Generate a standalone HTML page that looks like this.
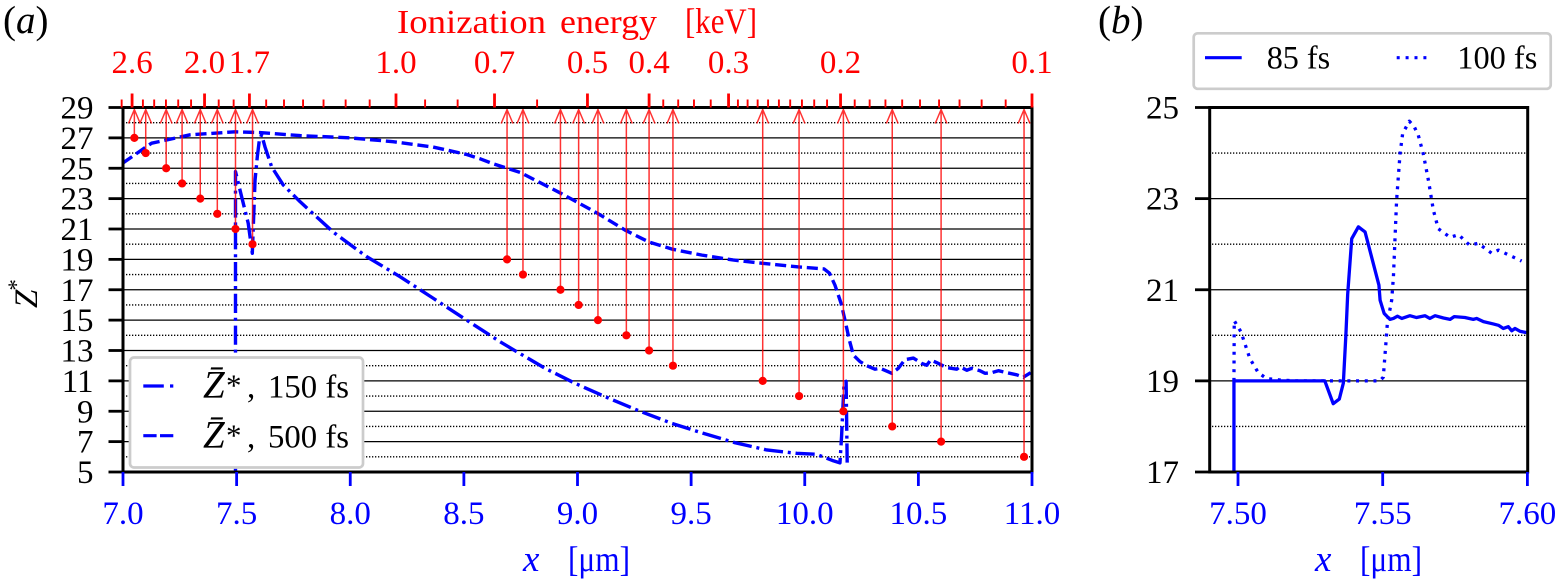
<!DOCTYPE html>
<html lang="en">
<head>
<meta charset="utf-8">
<title>Ionization energy and Z* profiles</title>
<style>
html,body{margin:0;padding:0;background:#fff;width:1557px;height:579px;overflow:hidden}
svg{display:block}
text{font-family:"Liberation Serif","DejaVu Serif",serif;font-size:33px}
.i{font-style:italic}
</style>
</head>
<body>
<svg id="chart" xmlns="http://www.w3.org/2000/svg" width="1557" height="579" viewBox="0 0 1557 579">
  <defs>
    <clipPath id="clipA"><rect x="123" y="107.5" width="909" height="364.5"/></clipPath>
    <clipPath id="clipB"><rect x="1209.7" y="107.5" width="318" height="364.5"/></clipPath>
  </defs>

  <text x="3" y="33" font-size="39" style="font-size:39px">(<tspan class="i">a</tspan>)</text>
  <text x="1098" y="33" style="font-size:39px">(<tspan class="i">b</tspan>)</text>

  <g fill="#f00" style="font-size:34px">
    <text x="397" y="33" textLength="149" lengthAdjust="spacingAndGlyphs" style="font-size:34px">Ionization</text>
    <text x="560" y="33" textLength="97" lengthAdjust="spacingAndGlyphs" style="font-size:34px">energy</text>
    <text x="685" y="33" textLength="72" lengthAdjust="spacingAndGlyphs" style="font-size:36px">[keV]</text>
  </g>

  <g id="gridA"></g>
  <g id="gridB"></g>
  <g id="seriesA" clip-path="url(#clipA)"></g>
  <g id="seriesB" clip-path="url(#clipB)"></g>
  <g id="arrows"></g>
  <g id="axesA"></g>
  <g id="axesB"></g>

  <g fill="#00f">
    <text class="i" x="523" y="571" style="font-size:37px">x</text>
    <text x="568" y="571" textLength="62" lengthAdjust="spacingAndGlyphs" style="font-size:36px">[μm]</text>
  </g>
  <g fill="#00f">
    <text class="i" x="1315" y="571" style="font-size:37px">x</text>
    <text x="1360" y="571" textLength="62" lengthAdjust="spacingAndGlyphs" style="font-size:36px">[μm]</text>
  </g>
  <text class="i" transform="translate(37,308) rotate(-90)">Z<tspan font-size="23" dy="-13" dx="-1" style="font-style:normal;font-size:23px">*</tspan></text>

  <g>
    <rect x="130" y="357.5" width="233" height="110" rx="4" fill="#fff" stroke="#ccc" stroke-width="2.7"/>
    <g>
      <line x1="143.3" x2="173.3" y1="386" y2="386" stroke="#00f" stroke-width="3.2" stroke-dasharray="20.5 6.2 3.3 10"/>
      <text class="i" x="203" y="397.5" style="font-size:39px">Z&#772;</text>
      <text x="226" y="395.5" style="font-size:31px">*</text>
      <text x="247" y="397.5">,</text>
      <text x="268" y="397.5" textLength="81" lengthAdjust="spacingAndGlyphs">150 fs</text>
    </g>
    <g>
      <line x1="143.3" x2="173.3" y1="435.7" y2="435.7" stroke="#00f" stroke-width="3.2" stroke-dasharray="13.3 3.4"/>
      <text class="i" x="203" y="447.5" style="font-size:39px">Z&#772;</text>
      <text x="226" y="445.5" style="font-size:31px">*</text>
      <text x="247" y="447.5">,</text>
      <text x="268" y="447.5" textLength="81" lengthAdjust="spacingAndGlyphs">500 fs</text>
    </g>
  </g>

  <g>
    <rect x="1193.7" y="33.3" width="357" height="55.5" rx="4" fill="#fff" stroke="#ccc" stroke-width="2.7"/>
    <g>
      <line x1="1205" x2="1241.7" y1="57.7" y2="57.7" stroke="#00f" stroke-width="3.2"/>
      <text x="1266.7" y="68.5" textLength="63.5" lengthAdjust="spacingAndGlyphs">85 fs</text>
    </g>
    <g>
      <line x1="1396.7" x2="1426.5" y1="57.7" y2="57.7" stroke="#00f" stroke-width="3.2" stroke-dasharray="3 5.9"/>
      <text x="1457.3" y="68.5" textLength="80" lengthAdjust="spacingAndGlyphs">100 fs</text>
    </g>
  </g>
</svg>

<script>
// ---- Panel (a) data ----
const xTicksA = [7.0, 7.5, 8.0, 8.5, 9.0, 9.5, 10.0, 10.5, 11.0];
const xTickLabelsA = ["7.0", "7.5", "8.0", "8.5", "9.0", "9.5", "10.0", "10.5", "11.0"];
const yTicksA = [5, 7, 9, 11, 13, 15, 17, 19, 21, 23, 25, 27, 29];
const yMinorA = [6, 8, 10, 12, 14, 16, 18, 20, 22, 24, 26, 28];

const energyMajor = [2.6, 2.0, 1.7, 1.0, 0.7, 0.5, 0.4, 0.3, 0.2, 0.1];
const energyMajorLabels = ["2.6", "2.0", "1.7", "1.0", "0.7", "0.5", "0.4", "0.3", "0.2", "0.1"];
const energyMinor = [2.7, 2.5, 2.4, 2.3, 2.2, 2.1, 1.9, 1.8, 1.6, 1.5, 1.4, 1.3, 1.2, 1.1, 0.9, 0.8, 0.6,
  0.38, 0.36, 0.34, 0.32, 0.29, 0.28, 0.27, 0.26, 0.25, 0.24, 0.23, 0.22, 0.21,
  0.19, 0.18, 0.17, 0.16, 0.15, 0.14, 0.13, 0.12, 0.11];

const ionCharge = [27, 26, 25, 24, 23, 22, 21, 20, 19, 18, 17, 16, 15, 14, 13, 12, 11, 10, 9, 8, 7, 6];
const ionPosition = [7.05, 7.10, 7.19, 7.26, 7.34, 7.415, 7.495, 7.57, 8.69, 8.76, 8.925, 9.005, 9.09, 9.215,
  9.315, 9.42, 9.815, 9.975, 10.17, 10.385, 10.6, 10.965];

const x150fs = [7.495, 7.495, 7.522, 7.551, 7.569, 7.581, 7.591, 7.6, 7.61, 7.625, 7.654, 7.705, 7.779, 7.925,
  8.072, 8.219, 8.365, 8.512, 8.659, 8.725, 8.857, 8.989, 9.128, 9.268, 9.414, 9.553, 9.693, 9.833, 9.965,
  10.05, 10.127, 10.155, 10.162, 10.173, 10.182, 10.187];
const z150fs = [5, 24.78, 23.13, 21.38, 19.4, 24.2, 25.76, 26.86, 27.2, 26.4, 25.1, 23.9, 22.8, 20.8,
  19.18, 17.86, 16.44, 15.0, 13.58, 12.99, 11.83, 10.84, 9.92, 9.04, 8.21, 7.55, 6.93, 6.45, 6.23,
  6.17, 5.73, 5.6, 7.33, 10.87, 10.97, 5.35];

const x500fs = [7.0, 7.101, 7.126, 7.192, 7.295, 7.493, 7.603, 7.779, 7.999, 8.188, 8.364, 8.44, 8.514, 8.57, 8.628, 8.747,
  8.927, 9.086, 9.209, 9.315, 9.42, 9.548, 9.684, 9.814, 9.973, 10.085, 10.109, 10.133, 10.16, 10.177, 10.196,
  10.214, 10.243, 10.273, 10.309, 10.331, 10.383, 10.412, 10.441, 10.478, 10.515, 10.537, 10.554, 10.581, 10.625,
  10.669, 10.683, 10.713, 10.735, 10.771, 10.793, 10.823, 10.852, 10.889, 10.933, 10.962, 10.994];
const z500fs = [25.35, 26.4, 26.65, 26.86, 27.2, 27.4, 27.35, 27.15, 27.0, 26.75, 26.4, 26.15, 25.9, 25.63, 25.3, 24.73,
  23.35, 22.05, 20.93, 20.14, 19.66, 19.28, 18.96, 18.74, 18.5, 18.37, 18.09, 17.3, 16.1, 15.0, 13.7,
  12.7, 12.27, 12.0, 11.77, 11.83, 11.5, 11.83, 12.4, 12.5, 12.15, 12.03, 12.38, 12.2, 11.87,
  11.77, 11.93, 11.7, 11.83, 11.67, 11.5, 11.54, 11.67, 11.54, 11.4, 11.24, 11.54];

// ---- Panel (b) data ----
const xTicksB = [7.50, 7.55, 7.60];
const xTickLabelsB = ["7.50", "7.55", "7.60"];
const yTicksB = [17, 19, 21, 23, 25];
const yMinorB = [18, 20, 22, 24];

const x85fs = [7.4986, 7.4986, 7.53, 7.5329, 7.535, 7.5364, 7.5373, 7.5379, 7.5393, 7.5416, 7.5439, 7.5487, 7.5491,
  7.5505, 7.5525, 7.5537, 7.5551, 7.5566, 7.5594, 7.5617, 7.5646, 7.5663, 7.5681, 7.571, 7.5733, 7.5747, 7.5784,
  7.5813, 7.5825, 7.5848, 7.5882, 7.59, 7.5917, 7.5934, 7.5946, 7.5957, 7.5974, 7.5997];
const z85fs = [17, 19, 19, 18.5, 18.6, 18.95, 20.04, 20.9, 22.12, 22.38, 22.27, 21.1, 20.77,
  20.48, 20.35, 20.37, 20.42, 20.37, 20.43, 20.39, 20.43, 20.37, 20.43, 20.38, 20.35, 20.41, 20.39,
  20.35, 20.37, 20.3, 20.25, 20.22, 20.15, 20.19, 20.1, 20.15, 20.09, 20.06];

const x100fs = [7.4986, 7.4987, 7.501, 7.5041, 7.507, 7.5099, 7.5145, 7.52, 7.549, 7.5502, 7.5511, 7.5516, 7.5531,
  7.5537, 7.5548, 7.5554, 7.556, 7.5569, 7.5592, 7.5608, 7.5623, 7.564, 7.5658, 7.5675, 7.5692, 7.5733, 7.5762,
  7.58, 7.583, 7.5877, 7.59, 7.598];
const z100fs = [19, 20.32, 20.08, 19.49, 19.18, 19.05, 19.02, 19, 19, 19.08, 19.82, 20.26, 20.77,
  21.28, 22.96, 23.48, 23.99, 24.43, 24.7, 24.59, 24.39, 23.99, 23.4, 22.75, 22.34, 22.15, 22.21,
  21.98, 22.02, 21.8, 21.87, 21.63];

// ---- Axis functions ----
const NS = "http://www.w3.org/2000/svg";
const top_ = 107.5, bottom_ = 472;
const xA = v => 123 + (v - 7) * 227.25;
const yA = v => bottom_ - (v - 5) * (bottom_ - top_) / 24;
const xE = e => 1032 - 636 * Math.log10(e / 0.1);
const xB = v => 1238 + (v - 7.5) * 2894;
const yB = v => bottom_ - (v - 17) * (bottom_ - top_) / 8;

function mk(parent, tag, attrs, text) {
  const el = document.createElementNS(NS, tag);
  for (const k in attrs) el.setAttribute(k, attrs[k]);
  if (text !== undefined) el.textContent = text;
  parent.appendChild(el);
  return el;
}
function hLine(parent, name, x1, x2, y, style) {
  const el = mk(parent, "line", Object.assign({x1: x1, x2: x2, y1: y, y2: y}, style));
  
  
}
function vLine(parent, name, x, y1, y2, style) {
  const el = mk(parent, "line", Object.assign({x1: x, x2: x, y1: y1, y2: y2}, style));
  
  
}
function label(parent, name, x, y, anchor, fill, str) {
  const el = mk(parent, "text", {x: x, y: y, "text-anchor": anchor, fill: fill}, str);
  
  
}
function curve(parent, name, xs, ys, fx, fy, dash, w) {
  const d = xs.map((v, i) => (i ? "L" : "M") + fx(v).toFixed(2) + " " + fy(ys[i]).toFixed(2)).join("");
  const el = mk(parent, "path", {d: d, fill: "none", stroke: "#00f", "stroke-width": w, "stroke-linejoin": "round"});
  if (dash) el.setAttribute("stroke-dasharray", dash);
  
  
}

const solidGrid = {stroke: "#000", "stroke-width": 1.3};
const dotGrid = {stroke: "#000", "stroke-width": 1.3, "stroke-dasharray": "1.3 1.7"};
const tickK = {stroke: "#000", "stroke-width": 2.8};
const tickB = {stroke: "#00f", "stroke-width": 2.8};

// ---- Panel (a) ----
const gridA = document.getElementById("gridA");
const axesA = document.getElementById("axesA");
yTicksA.forEach(v => { if (v > 5 && v < 29) hLine(gridA, "grid-major-" + v, 123, 1032, yA(v), solidGrid); });
yMinorA.forEach(v => hLine(gridA, "grid-minor-" + v, 126, 1030, yA(v), dotGrid));

const seriesA = document.getElementById("seriesA");
curve(seriesA, "series-150fs", x150fs, z150fs, xA, yA, "19.2 4.8 3 4.8", 3.4);
curve(seriesA, "series-500fs", x500fs, z500fs, xA, yA, "11.1 4.8", 3.4);

const arrows = document.getElementById("arrows");
ionCharge.forEach((z, i) => {
  const x = xA(ionPosition[i]);
  const tip = top_ + 2;
  const ln = mk(arrows, "path", {
    d: "M" + x + " " + yA(z) + "L" + x + " " + tip + "M" + (x - 5.9) + " " + (tip + 14) + "L" + x + " " + tip + "L" + (x + 5.9) + " " + (tip + 14),
    fill: "none", stroke: "#f00", "stroke-width": 1.5, "stroke-opacity": 0.8
  });
  
  
  const dot = mk(arrows, "circle", {cx: x, cy: yA(z), r: 4.1, fill: "#f00"});
  
  
});

const spine = {stroke: "#000", "stroke-width": 3};
vLine(axesA, "spine-a-left", 123, top_ - 1.5, bottom_ + 1.5, spine);
vLine(axesA, "spine-a-right", 1032, top_ - 1.5, bottom_ + 1.5, spine);
hLine(axesA, "spine-a-top", 123, 1032, top_, spine);
hLine(axesA, "spine-a-bottom", 123, 1032, bottom_, spine);
yTicksA.forEach(v => {
  hLine(axesA, "y-tick-" + v, 108.5, 123, yA(v), tickK);
  label(axesA, "y-tick-label-" + v, 93.5, yA(v) + 11, "end", "#000", String(v));
});
xTicksA.forEach((v, i) => {
  vLine(axesA, "x-tick-" + xTickLabelsA[i], xA(v), bottom_, 486, tickB);
  label(axesA, "x-tick-label-" + xTickLabelsA[i], xA(v), 524, "middle", "#00f", xTickLabelsA[i]);
});
energyMajor.forEach((e, i) => {
  vLine(axesA, "energy-tick-" + energyMajorLabels[i], xE(e), 93.5, top_, {stroke: "#f00", "stroke-width": 2.8});
  label(axesA, "energy-tick-label-" + energyMajorLabels[i], xE(e), 73, "middle", "#f00", energyMajorLabels[i]);
});
energyMinor.forEach(e => vLine(axesA, "energy-minor-tick", xE(e), 99.5, top_, {stroke: "#f00", "stroke-width": 1.9}));

// ---- Panel (b) ----
const gridB = document.getElementById("gridB");
const axesB = document.getElementById("axesB");
yTicksB.forEach(v => { if (v > 17 && v < 25) hLine(gridB, "grid-b-major-" + v, 1209.7, 1527.7, yB(v), solidGrid); });
yMinorB.forEach(v => hLine(gridB, "grid-b-minor-" + v, 1212, 1526, yB(v), dotGrid));

const seriesB = document.getElementById("seriesB");
curve(seriesB, "series-100fs", x100fs, z100fs, xB, yB, "3 5.7", 3.3);
curve(seriesB, "series-85fs", x85fs, z85fs, xB, yB, null, 3.3);

vLine(axesB, "spine-b-left", 1209.7, top_ - 1.5, bottom_ + 1.5, spine);
vLine(axesB, "spine-b-right", 1527.7, top_ - 1.5, bottom_ + 1.5, spine);
hLine(axesB, "spine-b-top", 1209.7, 1527.7, top_, spine);
hLine(axesB, "spine-b-bottom", 1209.7, 1527.7, bottom_, spine);
yTicksB.forEach(v => {
  hLine(axesB, "y-tick-b-" + v, 1195, 1209.7, yB(v), tickK);
  label(axesB, "y-tick-label-b-" + v, 1179, yB(v) + 11, "end", "#000", String(v));
});
xTicksB.forEach((v, i) => {
  vLine(axesB, "x-tick-b-" + xTickLabelsB[i], xB(v), bottom_, 486, tickB);
  label(axesB, "x-tick-label-b-" + xTickLabelsB[i], xB(v), 524, "middle", "#00f", xTickLabelsB[i]);
});
</script>
</body>
</html>
